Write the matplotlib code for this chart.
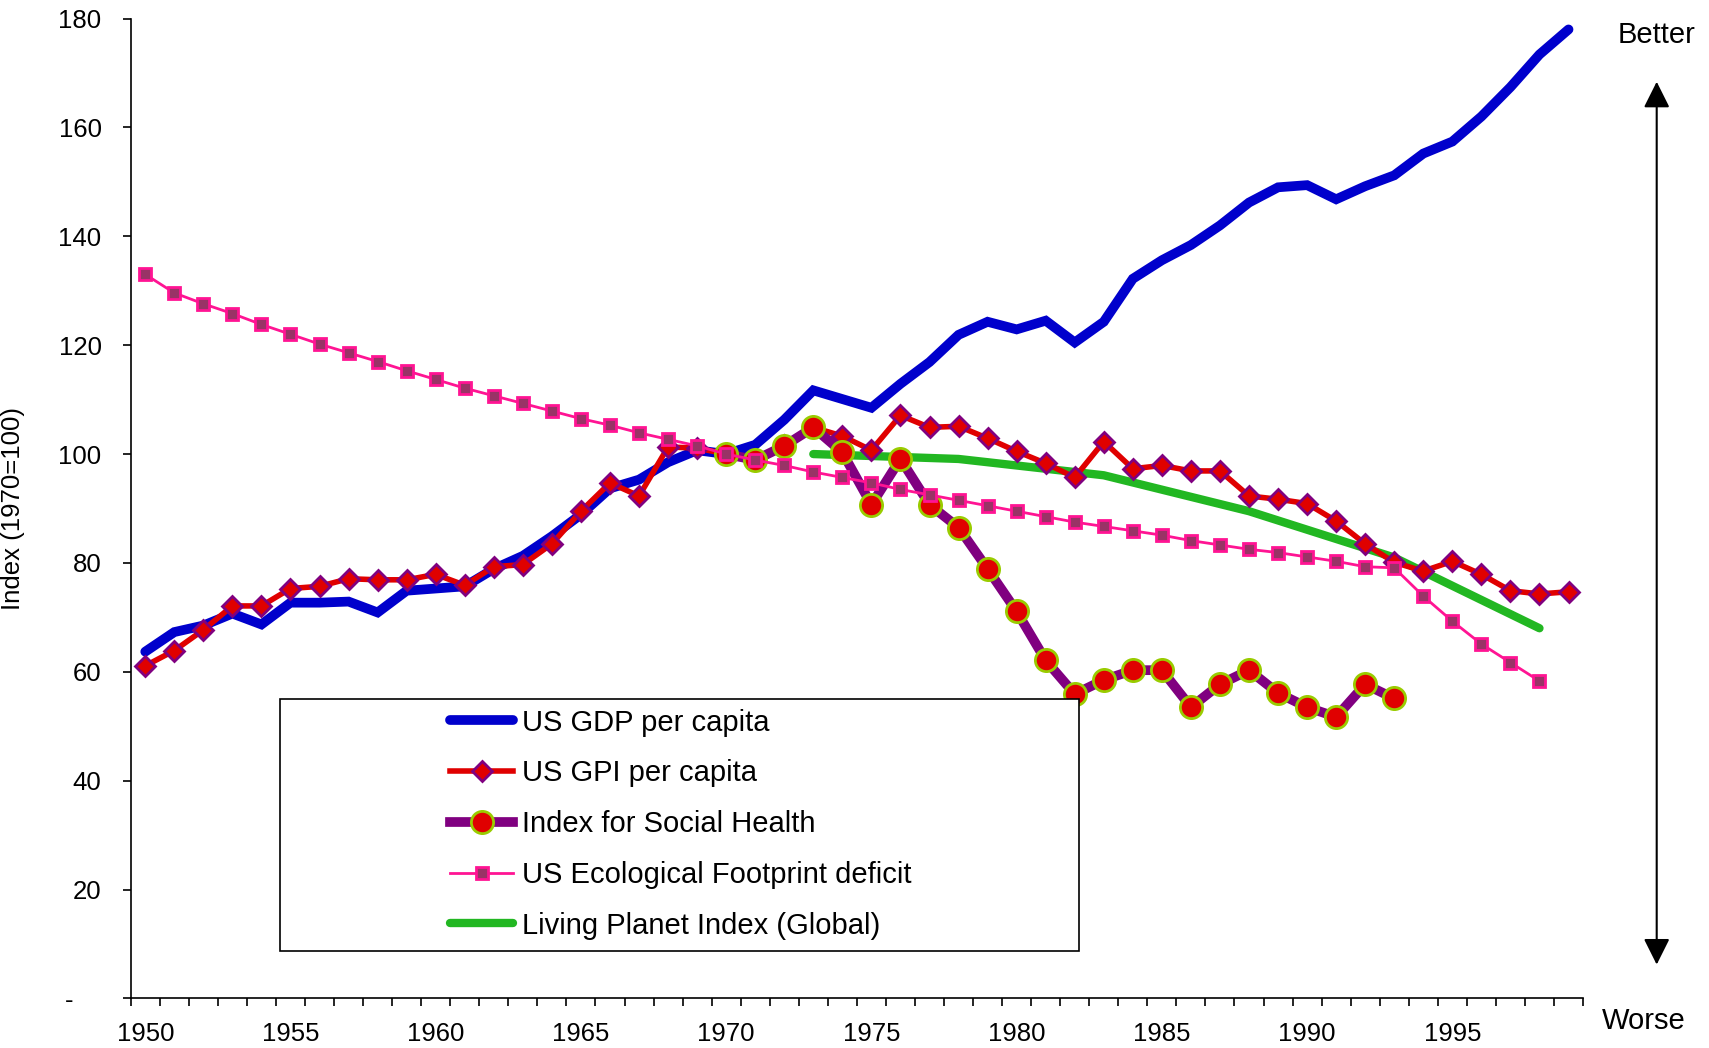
import numpy as np
import matplotlib
matplotlib.use("Agg")
import matplotlib.pyplot as plt
from matplotlib.patches import Rectangle

plt.rcParams['font.family'] = ['Liberation Sans', 'DejaVu Sans']

# Data (index, 1970 = 100)
years = list(range(1950, 2000))

gdp = [63.7, 67.3, 68.5, 70.7, 68.7, 72.7, 72.7, 72.9, 70.9, 74.9,
       75.3, 75.7, 78.9, 81.3, 84.9, 88.9, 93.7, 95.3, 98.5, 100.7,
       100.0, 101.7, 106.3, 111.7, 110.1, 108.5, 112.9, 116.9, 121.9, 124.3,
       122.9, 124.5, 120.5, 124.3, 132.2, 135.6, 138.4, 142.0, 146.2, 149.0,
       149.4, 146.8, 149.2, 151.2, 155.2, 157.4, 162.0, 167.4, 173.4, 178.0]

gpi = [61.1, 63.9, 67.7, 72.1, 72.1, 75.3, 75.7, 77.1, 76.9, 76.9,
       77.9, 75.9, 79.3, 79.7, 83.5, 89.5, 94.7, 92.3, 101.3, 101.1,
       100.0, 99.1, 101.7, 104.9, 103.3, 100.7, 107.1, 104.9, 105.1, 102.9,
       100.5, 98.3, 95.7, 102.3, 97.3, 97.9, 96.9, 96.9, 92.3, 91.7,
       90.9, 87.7, 83.5, 80.1, 78.5, 80.3, 77.9, 74.9, 74.3, 74.7]

ish_years = list(range(1970, 1994))
ish = [100.0, 98.9, 101.5, 104.9, 100.3, 90.7, 99.1, 90.7, 86.5, 78.9,
       71.1, 62.1, 55.9, 58.5, 60.3, 60.3, 53.5, 57.7, 60.3, 56.1,
       53.5, 51.7, 57.7, 55.1]

eco_years = list(range(1950, 1999))
eco = [133.0, 129.6, 127.6, 125.8, 123.8, 122.0, 120.2, 118.6, 117.0, 115.3,
       113.7, 112.1, 110.7, 109.3, 107.9, 106.5, 105.3, 103.9, 102.7, 101.5,
       100.0, 98.9, 97.9, 96.7, 95.7, 94.7, 93.5, 92.5, 91.5, 90.5,
       89.5, 88.5, 87.5, 86.7, 85.9, 85.1, 84.1, 83.3, 82.5, 81.9,
       81.1, 80.3, 79.3, 79.1, 73.9, 69.3, 65.1, 61.7, 58.3]

lpi_years = [1973, 1978, 1983, 1988, 1993, 1998]
lpi = [100.0, 99.1, 96.1, 89.5, 81.0, 68.0]

labels = ['US GDP per capita', 'US GPI per capita', 'Index for Social Health',
          'US Ecological Footprint deficit', 'Living Planet Index (Global)']

fig = plt.figure(figsize=(17.09, 10.48), dpi=100)
ax = fig.add_axes([0.0765, 0.0473, 0.8498, 0.935])

l_gdp, = ax.plot(years, gdp, color='#0000CC', lw=7, solid_capstyle='round',
                 solid_joinstyle='miter', zorder=2)
l_lpi, = ax.plot(lpi_years, lpi, color='#22B722', lw=6, solid_capstyle='round',
                 zorder=2.5)
l_gpi, = ax.plot(years, gpi, color='#E00000', lw=4, marker='D', ms=10,
                 mfc='#E00000', mec='#800080', mew=2, zorder=3)
l_ish, = ax.plot(ish_years, ish, color='#800080', lw=7, marker='o', ms=16,
                 mfc='#E00000', mec='#99CC00', mew=2, zorder=4)
l_eco, = ax.plot(eco_years, eco, color='#FF1493', lw=2, marker='s', ms=8,
                 mfc='#993366', mec='#FF1493', mew=2, zorder=5)

ax.set_xlim(1949.5, 1999.5)
ax.set_ylim(0, 180)
ax.set_xticks(range(1950, 2000, 5))
ax.set_xticks(np.arange(1949.5, 2000, 1), minor=True)
ax.tick_params(axis='x', which='major', length=0, pad=17, labelsize=18.5)
ax.tick_params(axis='x', which='minor', length=6, width=1.2, direction='out')
ax.set_yticks(range(0, 181, 20))
ax.set_yticklabels(['-    '] + [str(v) for v in range(20, 181, 20)])
ax.tick_params(axis='y', length=6, width=1.2, direction='out', pad=15,
               labelsize=18.5)
for s in ['top', 'right']:
    ax.spines[s].set_visible(False)
for s in ['left', 'bottom']:
    ax.spines[s].set_linewidth(1.2)

ax.set_ylabel('Index (1970=100)', fontsize=18.5)
ax.yaxis.set_label_coords(-0.073, 0.5)

# legend box (Excel style, wider than its contents)
box = Rectangle((0.1639, 0.0930), 0.4675, 0.2403, transform=fig.transFigure,
                facecolor='white', edgecolor='black', lw=1.2, zorder=10)
ax.add_patch(box)
box.set_clip_on(False)
leg = ax.legend([l_gdp, l_gpi, l_ish, l_eco, l_lpi], labels, loc='center left',
                bbox_to_anchor=(0.2635, 0.2137), bbox_transform=fig.transFigure,
                frameon=False, fontsize=21, numpoints=1, handlelength=2.16,
                handletextpad=0.31, labelspacing=0.78, borderpad=0,
                borderaxespad=0)
leg.set_zorder(11)

# Better / Worse arrow
ax.annotate('', xy=(0.9694, 0.922), xytext=(0.9694, 0.0796),
            xycoords='figure fraction', textcoords='figure fraction',
            arrowprops=dict(arrowstyle='<|-|>,head_width=0.4,head_length=0.8',
                            color='black', lw=1.5, mutation_scale=20,
                            shrinkA=0, shrinkB=0))
fig.text(0.9694, 0.9667, 'Better', fontsize=21, ha='center', va='center')
fig.text(0.9617, 0.0258, 'Worse', fontsize=21, ha='center', va='center')

fig.savefig('out.png', dpi=100)
